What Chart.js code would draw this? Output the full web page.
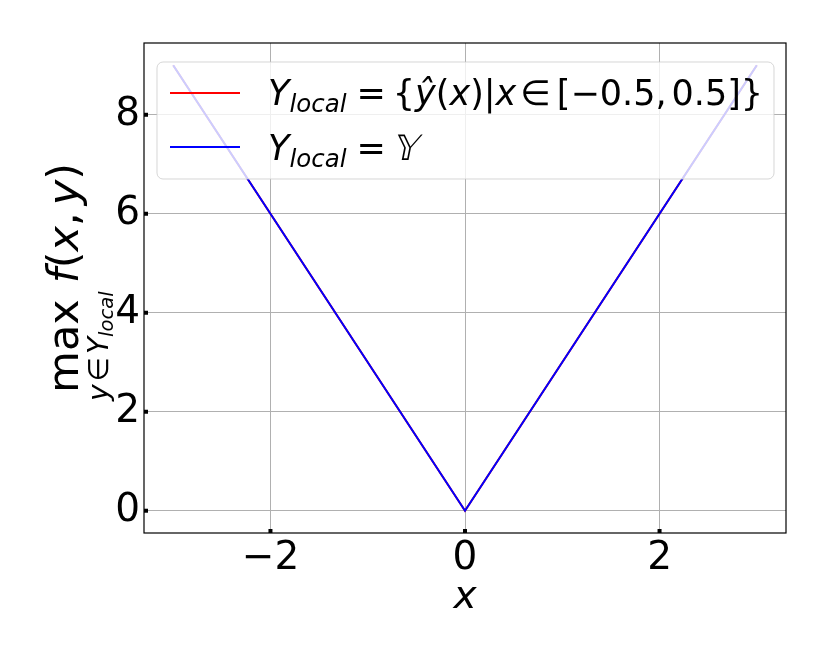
<!DOCTYPE html>
<html>
<head>
<meta charset="utf-8">
<script src="https://cdn.jsdelivr.net/npm/chart.js@4/dist/chart.umd.min.js"></script>
<style>
html,body{margin:0;padding:0;background:#fff;}
#wrap{width:830px;height:664px;position:relative;}
</style>
</head>
<body>
<div id="wrap"><canvas id="c" width="830" height="664"></canvas></div>
<script>
// ---- data ----
const xValues = [-3, 0, 3];
const yLocalValues = [9, 0, 9];
const yFullValues = [9, 0, 9];
const xTicks = [-2, 0, 2];
const yTicks = [0, 2, 4, 6, 8];
const xRange = [-3.3, 3.3];
const yRange = [-0.45, 9.45];
const seriesLabels = ['Y_local = {ŷ(x)|x∈[−0.5, 0.5]}', 'Y_local = 𝕐'];

const FONT = "'DejaVu Sans'";
const toPts = (xs, ys) => xs.map((x, i) => ({x: x, y: ys[i]}));
const fmt = v => String(v).replace('-', '\u2212');

function drawRuns(ctx, x, y, runs, base) {
  let cx = x;
  for (const r of runs) {
    cx += (r.gap || 0);
    const size = base * (r.s || 1);
    ctx.font = (r.i ? 'italic ' : '') + size + 'px ' + FONT;
    const yy = y + (r.dy || 0);
    if (r.skew) {
      ctx.save();
      ctx.translate(cx, yy);
      ctx.transform(1, 0, -0.2, 1, 0, 0);
      ctx.fillText(r.t, 0, 0);
      ctx.restore();
    } else {
      ctx.fillText(r.t, cx, yy);
    }
    cx += ctx.measureText(r.t).width;
  }
  return cx;
}

const decor = {
  id: 'decor',
  afterDatasetsDraw(chart) {
    const ctx = chart.ctx, a = chart.chartArea;
    const xs = chart.scales.x, ys = chart.scales.y;
    ctx.save();
    // frame
    ctx.strokeStyle = '#000'; ctx.lineWidth = 1.2;
    ctx.strokeRect(a.left, a.top, a.right - a.left, a.bottom - a.top);
    // inward ticks
    ctx.fillStyle = '#000';
    xTicks.forEach(v => { const p = xs.getPixelForValue(v); ctx.fillRect(p - 2, a.bottom - 4, 4, 4); });
    yTicks.forEach(v => { const p = ys.getPixelForValue(v); ctx.fillRect(a.left, p - 2, 4, 4); });

    // legend
    const L = 157, T = 62, W = 617, H = 117, R = 6;
    ctx.beginPath();
    ctx.roundRect(L, T, W, H, R);
    ctx.fillStyle = 'rgba(255,255,255,0.8)';
    ctx.fill();
    ctx.strokeStyle = 'rgba(204,204,204,0.8)'; ctx.lineWidth = 1;
    ctx.stroke();
    const colors = ['#ff0000', '#0000ff'];
    const rowsY = [93, 147];
    colors.forEach((c, i) => {
      ctx.strokeStyle = c; ctx.lineWidth = 2;
      ctx.beginPath(); ctx.moveTo(170, rowsY[i]); ctx.lineTo(240, rowsY[i]); ctx.stroke();
    });
    ctx.fillStyle = '#000'; ctx.textBaseline = 'alphabetic'; ctx.textAlign = 'left';
    const B = 35;
    const head = [
      {t: 'Y', i: true},
      {t: 'local', i: true, s: 0.7, dy: 7},
      {t: '=', gap: 10},
    ];
    drawRuns(ctx, 268, 105, head.concat([
      {t: '{', gap: 7}, {t: 'ŷ', i: true}, {t: '('}, {t: 'x', i: true}, {t: ')'},
      {t: '|'}, {t: 'x', i: true}, {t: '∈', gap: 4}, {t: '[', gap: 6},
      {t: '−0.5,'}, {t: '0.5]}', gap: 5}
    ]), B);
    drawRuns(ctx, 268, 160, head.concat([{t: '𝕐', skew: true, gap: 7}]), B);

    // x label
    ctx.font = 'italic 39px ' + FONT; ctx.textAlign = 'center';
    ctx.fillText('x', (a.left + a.right) / 2, 608);

    // y label (rotated)
    ctx.save();
    ctx.translate(78, 393);
    ctx.rotate(-Math.PI / 2);
    ctx.textAlign = 'left';
    drawRuns(ctx, 0, 0, [
      {t: 'max'}, {t: 'f', i: true, gap: 16}, {t: '('}, {t: 'x', i: true}, {t: ','}, {t: 'y', i: true, gap: 7}, {t: ')'}
    ], 43);
    drawRuns(ctx, -8, 30, [
      {t: 'y', i: true}, {t: '∈', gap: 3}, {t: 'Y', i: true, gap: 3}, {t: 'local', i: true, s: 0.7, dy: 5}
    ], 28);
    ctx.restore();
    ctx.restore();
  }
};

new Chart(document.getElementById('c'), {
  type: 'scatter',
  data: {
    datasets: [
      {label: seriesLabels[0], data: toPts(xValues, yLocalValues), showLine: true, borderColor: '#ff0000', borderWidth: 2, pointRadius: 0, fill: false, order: 1},
      {label: seriesLabels[1], data: toPts(xValues, yFullValues), showLine: true, borderColor: '#0000ff', borderWidth: 2, pointRadius: 0, fill: false, order: 0}
    ]
  },
  options: {
    responsive: false,
    animation: false,
    events: [],
    layout: {padding: {left: 0, top: 43, right: 44, bottom: 0}},
    plugins: {legend: {display: false}, tooltip: {enabled: false}},
    scales: {
      x: {
        type: 'linear', min: xRange[0], max: xRange[1],
        afterBuildTicks: s => { s.ticks = xTicks.map(v => ({value: v})); },
        afterFit: s => { s.height = 131; },
        grid: {color: '#b0b0b0', lineWidth: 1, drawTicks: false},
        border: {display: false},
        ticks: {color: '#000', font: {family: FONT, size: 39}, padding: 2, maxRotation: 0, callback: fmt}
      },
      y: {
        type: 'linear', min: yRange[0], max: yRange[1],
        afterBuildTicks: s => { s.ticks = yTicks.map(v => ({value: v})); },
        afterFit: s => { s.width = 144; },
        grid: {color: '#b0b0b0', lineWidth: 1, drawTicks: false},
        border: {display: false},
        ticks: {color: '#000', font: {family: FONT, size: 39}, padding: 4, callback: fmt}
      }
    }
  },
  plugins: [decor]
});
</script>
</body>
</html>
